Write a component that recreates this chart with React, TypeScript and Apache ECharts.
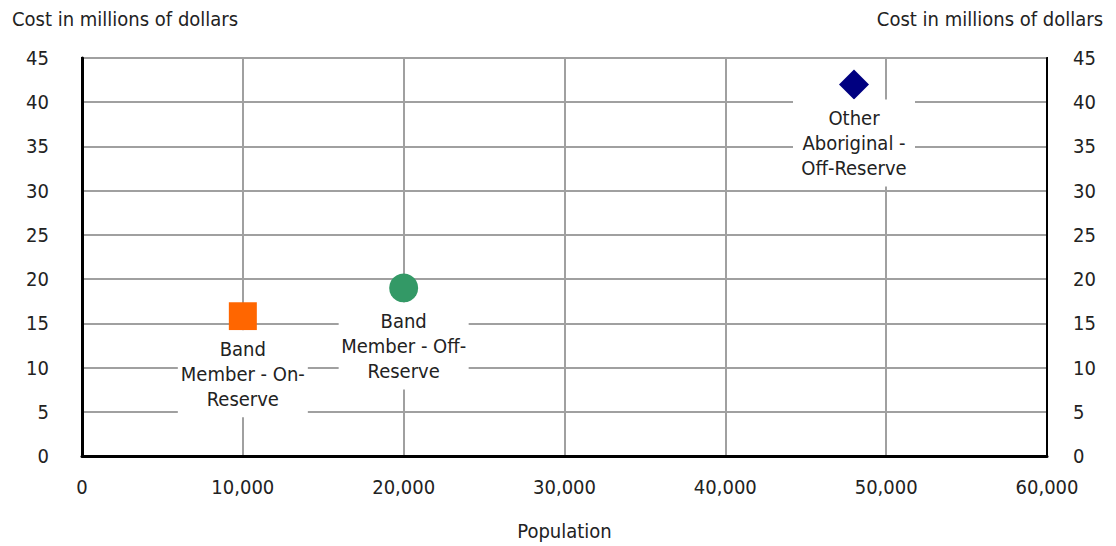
import React, { useEffect, useRef } from "react";
import * as echarts from "echarts";

const seriesNames = ["Band Member - On-Reserve", "Band Member - Off-Reserve", "Other Aboriginal - Off-Reserve"];
const labelTexts = ["Band\nMember - On-\nReserve", "Band\nMember - Off-\nReserve", "Other\nAboriginal -\nOff-Reserve"];
const populations = [10000, 20000, 48000];
const costs = [15.8, 19, 42];
const symbols = ["rect", "circle", "diamond"];
const symbolSizes = [28, 29, 30];
const colors = ["#ff6600", "#339966", "#000080"];
const labelWidths = [110, 110, 102];

const FONT = "'Liberation Sans Narrow', 'DejaVu Sans Condensed', 'Roboto', sans-serif";

export default function App() {
  const ref = useRef<HTMLDivElement>(null);
  useEffect(() => {
    const chart = echarts.init(ref.current!, null, { renderer: "svg" });
    const textStyle = { fontFamily: FONT, fontSize: 20, color: "#222" };
    chart.setOption({
      animation: false,
      backgroundColor: "#fff",
      textStyle: { fontFamily: FONT },
      grid: { left: 82, right: 69, top: 58, bottom: 87, show: true, borderColor: "#000", borderWidth: 2 },
      xAxis: {
        type: "value",
        min: 0,
        max: 60000,
        interval: 10000,
        name: "Population",
        nameLocation: "middle",
        nameGap: 65,
        nameTextStyle: textStyle,
        axisLine: { show: true, onZero: false, lineStyle: { color: "#000", width: 3 } },
        axisTick: { show: false },
        axisLabel: { ...textStyle, margin: 21, formatter: (v: number) => v.toLocaleString("en-US") },
        splitLine: { show: true, lineStyle: { color: "#a0a0a0", width: 2 } },
      },
      yAxis: [
        {
          type: "value",
          min: 0,
          max: 45,
          interval: 5,
          position: "left",
          axisLine: { show: true, onZero: false, lineStyle: { color: "#000", width: 3 } },
          axisTick: { show: false },
          axisLabel: { ...textStyle, margin: 33 },
          splitLine: { show: true, lineStyle: { color: "#a0a0a0", width: 2 } },
        },
        {
          type: "value",
          min: 0,
          max: 45,
          interval: 5,
          position: "right",
          axisLine: { show: true, onZero: false, lineStyle: { color: "#000", width: 2 } },
          axisTick: { show: false },
          axisLabel: { ...textStyle, margin: 26 },
          splitLine: { show: false },
        },
      ],
      graphic: [
        { type: "text", left: 12, top: 9, style: { text: "Cost in millions of dollars", font: `20px ${FONT}`, fill: "#222" } },
        { type: "text", right: 13, top: 9, style: { text: "Cost in millions of dollars", font: `20px ${FONT}`, fill: "#222" } },
      ],
      series: seriesNames.map((name, i) => ({
        name,
        type: "scatter",
        symbol: symbols[i],
        symbolSize: symbolSizes[i],
        itemStyle: { color: colors[i], opacity: 1 },
        emphasis: { disabled: true },
        z: 5,
        label: {
          show: true,
          position: "bottom",
          distance: 0,
          formatter: labelTexts[i],
          fontFamily: FONT,
          fontSize: 20,
          color: "#222",
          lineHeight: 25,
          align: "center",
          width: labelWidths[i],
          backgroundColor: "#fff",
          padding: [6, 10, 6, 10],
        },
        data: [[populations[i], costs[i]]],
      })),
    });
    return () => chart.dispose();
  }, []);
  return <div ref={ref} style={{ position: "fixed", left: 0, top: 0, width: 1116, height: 546 }} />;
}
